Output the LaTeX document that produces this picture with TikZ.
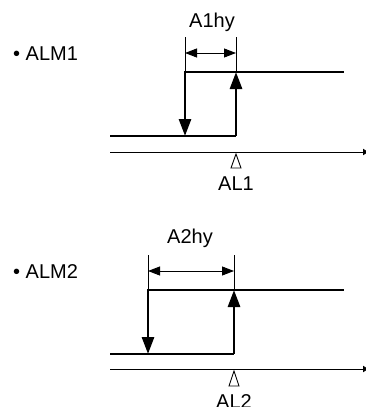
\documentclass[tikz,border=0pt]{standalone}
\usepackage{fontspec}
\setmainfont{Liberation Sans}
\usetikzlibrary{arrows.meta}
\begin{document}
\begin{tikzpicture}[x=1pt,y=-1pt,
  lbl/.style={inner sep=0pt,font=\fontsize{20}{23}\selectfont},
  thickln/.style={line width=2.8pt},
  thinln/.style={line width=0.9pt},
  bigarrow/.style={thickln,-{Triangle[length=17pt,width=12pt]}},
  dimarrow/.style={thinln,{Triangle[length=12pt,width=9pt]}-{Triangle[length=12pt,width=9pt]}},
  axisarrow/.style={thinln,-{Latex[length=6pt,width=7pt]}}]
\useasboundingbox (0,0) rectangle (366,407);

% ---------- ALM1 ----------
\node[lbl,anchor=base west] (t1) at (13,60) {• ALM1};
\node[lbl,anchor=base] (h1) at (212,27) {A1hy};
\coordinate (a1tl) at (185,37);
\coordinate (a1tr) at (236,37);
\coordinate (a1ul) at (185,72);
\coordinate (a1ur) at (236,72);
\coordinate (a1end) at (343,72);
\coordinate (a1ll) at (110,136);
\coordinate (a1dl) at (185,136);
\coordinate (a1dr) at (236,136);
\coordinate (a1ax0) at (110,152);
\coordinate (a1ax1) at (369,152);
\coordinate (a1dml) at (185,53);
\coordinate (a1dmr) at (236,53);
\draw[thinln] (a1tl) -- (a1ul);
\draw[thinln] (a1tr) -- (a1ur);
\draw[dimarrow] (a1dml) -- (a1dmr);
\draw[thickln,line cap=rect] (a1ul) -- (a1end);
\draw[thickln] (a1ll) -- (a1dr);
\draw[bigarrow] (a1ul) -- (a1dl);
\draw[bigarrow] (a1dr) -- (a1ur);
\draw[axisarrow] (a1ax0) -- (a1ax1);
\draw[thinln,fill=white,line join=miter] (236,154) -- (241,168) -- (231,168) -- cycle;
\node[lbl,anchor=north] (al1) at (236,177) {AL1};

% ---------- ALM2 ----------
\node[lbl,anchor=base west] (t2) at (13,278) {• ALM2};
\node[lbl,anchor=base] (h2) at (190,243) {A2hy};
\coordinate (a2tl) at (148,255);
\coordinate (a2tr) at (234,255);
\coordinate (a2ul) at (148,290);
\coordinate (a2ur) at (234,290);
\coordinate (a2end) at (343,290);
\coordinate (a2ll) at (110,354);
\coordinate (a2dl) at (148,354);
\coordinate (a2dr) at (234,354);
\coordinate (a2ax0) at (110,369);
\coordinate (a2ax1) at (369,369);
\coordinate (a2dml) at (148,271);
\coordinate (a2dmr) at (234,271);
\draw[thinln] (a2tl) -- (a2ul);
\draw[thinln] (a2tr) -- (a2ur);
\draw[dimarrow] (a2dml) -- (a2dmr);
\draw[thickln,line cap=rect] (a2ul) -- (a2end);
\draw[thickln] (a2ll) -- (a2dr);
\draw[bigarrow] (a2ul) -- (a2dl);
\draw[bigarrow] (a2dr) -- (a2ur);
\draw[axisarrow] (a2ax0) -- (a2ax1);
\draw[thinln,fill=white,line join=miter] (234,371) -- (239,386) -- (229,386) -- cycle;
\node[lbl,anchor=north] (al2) at (234,394) {AL2};
\end{tikzpicture}
\end{document}
